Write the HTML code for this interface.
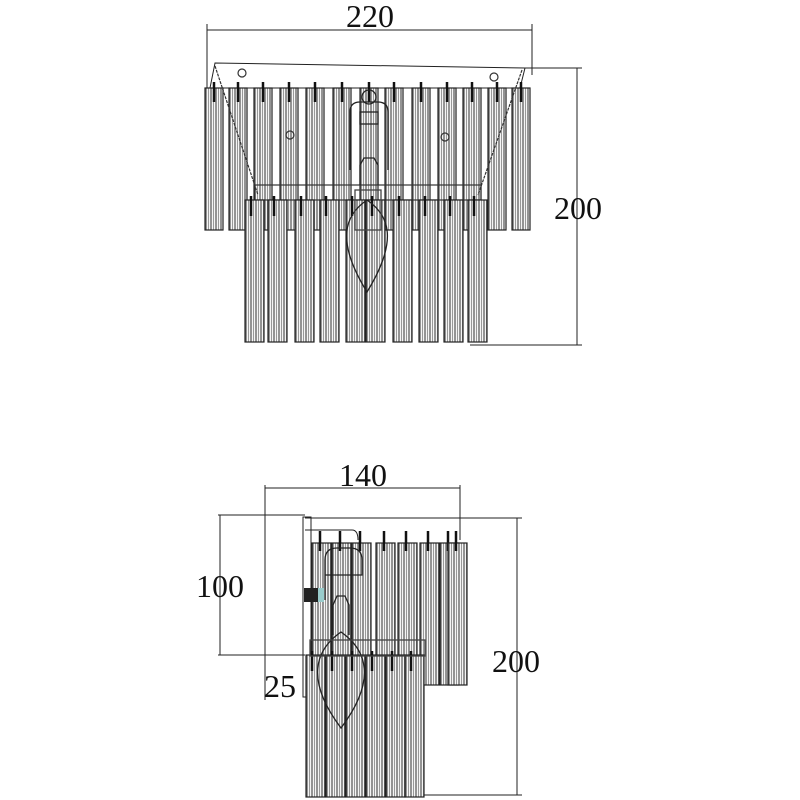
<!DOCTYPE html>
<html><head><meta charset="utf-8"><style>
html,body{margin:0;padding:0;background:#fff}
svg{display:block}
text{font-family:"Liberation Serif",serif;fill:#111}
</style></head><body>
<svg width="800" height="800" viewBox="0 0 800 800" xmlns="http://www.w3.org/2000/svg">
<defs>
<pattern id="st" width="5" height="10" patternUnits="userSpaceOnUse">
<rect width="5" height="10" fill="#fff"/>
<line x1="1" y1="0" x2="1" y2="10" stroke="#666" stroke-width="1.4"/>
<line x1="3.5" y1="0" x2="3.5" y2="10" stroke="#999" stroke-width="1.2"/>
</pattern>
<g id="rodT">
<rect x="0" y="0" width="18" height="142" fill="url(#st)" stroke="#222" stroke-width="1.2"/>
<line x1="9" y1="-6" x2="9" y2="14" stroke="#111" stroke-width="2.5"/>
</g>
<g id="rodB">
<rect x="0" y="0" width="19" height="142" fill="url(#st)" stroke="#222" stroke-width="1.2"/>
<line x1="6" y1="-4" x2="6" y2="16" stroke="#111" stroke-width="2.5"/>
</g>
<g id="rodS">
<rect x="0" y="0" width="19" height="142" fill="url(#st)" stroke="#222" stroke-width="1.2"/>
<line x1="8" y1="-12" x2="8" y2="8" stroke="#111" stroke-width="2.5"/>
</g>
</defs>

<!-- TOP DRAWING -->
<g stroke="#222" stroke-width="1" fill="none">
<line x1="207" y1="30" x2="532" y2="30"/>
<line x1="207" y1="24" x2="207" y2="90"/>
<line x1="532" y1="24" x2="532" y2="75"/>
<line x1="525" y1="68" x2="582" y2="68"/>
<line x1="470" y1="345" x2="582" y2="345"/>
<line x1="577" y1="68" x2="577" y2="345"/>
<polygon points="215,63 525,68 520,88 210,88"/>
</g>
<text x="370" y="27" font-size="32" text-anchor="middle">220</text>
<text x="578" y="219" font-size="32" text-anchor="middle">200</text>

<g>
<use href="#rodT" x="205" y="88"/><use href="#rodT" x="229" y="88"/><use href="#rodT" x="254" y="88"/>
<use href="#rodT" x="280" y="88"/><use href="#rodT" x="306" y="88"/><use href="#rodT" x="333" y="88"/>
<use href="#rodT" x="360" y="88"/><use href="#rodT" x="385" y="88"/><use href="#rodT" x="412" y="88"/>
<use href="#rodT" x="438" y="88"/><use href="#rodT" x="463" y="88"/><use href="#rodT" x="488" y="88"/>
<use href="#rodT" x="512" y="88"/>
</g>
<g stroke="#333" fill="none" stroke-width="1.2">
<line x1="215" y1="66" x2="258" y2="195" stroke-dasharray="3,1"/>
<line x1="522" y1="70" x2="478" y2="195" stroke-dasharray="3,1"/>
<rect x="255" y="185" width="226" height="15"/>
<circle cx="242" cy="73" r="4"/><circle cx="494" cy="77" r="4"/>
<circle cx="290" cy="135" r="4"/><circle cx="445" cy="137" r="4"/>
</g>
<g>
<use href="#rodB" x="245" y="200"/><use href="#rodB" x="268" y="200"/><use href="#rodB" x="295" y="200"/>
<use href="#rodB" x="320" y="200"/><use href="#rodB" x="346" y="200"/><use href="#rodB" x="366" y="200"/>
<use href="#rodB" x="393" y="200"/><use href="#rodB" x="419" y="200"/><use href="#rodB" x="444" y="200"/>
<use href="#rodB" x="468" y="200"/>
</g>
<g stroke="#222" fill="none" stroke-width="1.3">
<path d="M350,170 L350,112 Q350,102 360,102 L378,102 Q388,102 388,112 L388,170"/>
<rect x="360" y="112" width="18" height="12"/>
<circle cx="369" cy="97" r="7"/>
<path d="M360,185 L360,165 L364,158 L374,158 L378,165 L378,185"/>
<path d="M367,200 C345,215 335,240 367,292 C399,240 389,215 367,200 Z"/>
<rect x="355" y="190" width="26" height="40" stroke="#444"/>
</g>

<!-- BOTTOM DRAWING -->
<g stroke="#222" stroke-width="1" fill="none">
<line x1="265" y1="488" x2="460" y2="488"/>
<line x1="265" y1="485" x2="265" y2="700"/>
<line x1="460" y1="485" x2="460" y2="540"/>
<line x1="218" y1="515" x2="305" y2="515"/>
<line x1="218" y1="655" x2="305" y2="655"/>
<line x1="220" y1="515" x2="220" y2="655"/>
<line x1="305" y1="518" x2="522" y2="518"/>
<line x1="420" y1="795" x2="522" y2="795"/>
<line x1="517" y1="518" x2="517" y2="795"/>
<rect x="303" y="517" width="8" height="180"/>
<path d="M305,530 L352,530 Q358,530 358,540"/>
</g>
<text x="363" y="486" font-size="32" text-anchor="middle">140</text>
<text x="220" y="597" font-size="32" text-anchor="middle">100</text>
<text x="280" y="697" font-size="32" text-anchor="middle">25</text>
<text x="516" y="672" font-size="32" text-anchor="middle">200</text>

<g>
<use href="#rodS" x="312" y="543"/><use href="#rodS" x="332" y="543"/><use href="#rodS" x="352" y="543"/>
<use href="#rodS" x="376" y="543"/><use href="#rodS" x="398" y="543"/><use href="#rodS" x="420" y="543"/>
<use href="#rodS" x="440" y="543"/><use href="#rodS" x="448" y="543"/>
</g>
<g>
<use href="#rodB" x="306" y="655"/><use href="#rodB" x="326" y="655"/><use href="#rodB" x="346" y="655"/>
<use href="#rodB" x="366" y="655"/><use href="#rodB" x="386" y="655"/><use href="#rodB" x="405" y="655"/>
</g>
<rect x="304" y="588" width="14" height="14" fill="#222"/>
<rect x="318" y="588" width="6" height="14" fill="#9cc"/>
<g stroke="#222" fill="none" stroke-width="1.3">
<path d="M325,600 L325,560 Q325,548 337,548 L350,548 Q362,548 362,560 L362,575 L325,575"/>
<path d="M333,635 L333,605 L337,596 L345,596 L349,605 L349,635"/>
<path d="M341,632 C315,650 305,680 341,728 C377,680 367,650 341,632 Z"/>
<rect x="310" y="640" width="115" height="16" stroke="#444"/>
</g>
</svg>
</body></html>
